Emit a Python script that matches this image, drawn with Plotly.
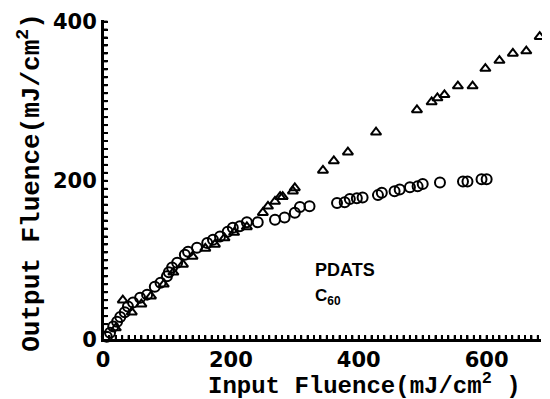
import plotly.graph_objects as go

# Triangles (upper series)
tri_x = [20, 31, 45, 60, 75, 95, 110, 125, 140, 160, 175, 190, 205, 225, 250, 258, 269, 281, 297,
         277, 300, 344, 361, 383, 427, 491, 514, 523, 534, 555, 578, 598, 620, 641, 662, 683]
tri_y = [15, 50, 35, 45, 55, 70, 85, 95, 105, 115, 120, 128, 135, 142, 160, 168, 174, 180, 187,
         180, 191, 213, 225, 236, 261, 289, 299, 304, 308, 319, 319, 341, 351, 360, 363, 381]

# Circles (lower series)
cir_x = [6, 11, 16, 22, 27, 34, 39, 47, 58, 69, 81, 90, 100, 103, 108, 116, 128, 133, 147, 163,
         172, 183, 195, 203, 214, 225, 242, 269, 284, 300, 308, 323, 366, 378, 386, 397, 406, 430,
         436, 456, 464, 480, 492, 500, 527, 563, 570, 592, 600]
cir_y = [4, 9, 17, 23, 29, 35, 42, 47, 53, 57, 67, 72, 80, 85, 91, 97, 107, 111, 116, 122,
         126, 130, 136, 141, 143, 148, 148, 151, 154, 160, 167, 168, 172, 173, 177, 178, 179, 182,
         185, 187, 189, 192, 193, 196, 198, 199, 199, 202, 202]

x_labels = [0, 200, 400, 600]
y_labels = [0, 200, 400]
x_title = "<b>Input Fluence(mJ/cm<sup>2</sup> )</b>"
y_title = "<b>Output Fluence(mJ/cm<sup>2</sup>)</b>"

X_RANGE = [0, 685]
Y_RANGE = [0, 402]

# small tick every 10 units, labelled only at the label values
x_tickvals = list(range(0, 681, 10))
x_ticktext = ["<b>%d</b>" % v if v in x_labels else "" for v in x_tickvals]
y_tickvals = list(range(0, 401, 10))
y_ticktext = ["<b>%d</b>" % v if v in y_labels else "" for v in y_tickvals]

# axis frame and tick marks, derived from the axis ranges and tick values
frame_x = [X_RANGE[0], X_RANGE[0], X_RANGE[1], None]
frame_y = [Y_RANGE[1], Y_RANGE[0], Y_RANGE[0], None]
for v in x_tickvals:
    frame_x += [v, v, None]
    frame_y += [Y_RANGE[0], Y_RANGE[0] + 6, None]
for v in y_tickvals:
    frame_x += [X_RANGE[0], X_RANGE[0] + 7, None]
    frame_y += [v, v, None]

fig = go.Figure()
fig.add_trace(go.Scatter(x=frame_x, y=frame_y, mode="lines", hoverinfo="skip", cliponaxis=False,
                         line=dict(color="black", width=2), showlegend=False))
fig.add_trace(go.Scatter(x=cir_x, y=cir_y, mode="markers", name="C60", cliponaxis=False,
                         marker=dict(symbol="circle-open", size=10, color="black",
                                     line=dict(width=2, color="black"))))
fig.add_trace(go.Scatter(x=tri_x, y=tri_y, mode="markers", name="PDATS", cliponaxis=False,
                         marker=dict(symbol="triangle-up-open", size=9, color="black",
                                     line=dict(width=2, color="black"))))

tickfont = dict(family="DejaVu Sans", size=21, color="black")

# The page body has an 8px default margin: the figure is sized to fill the rest.
fig.update_layout(
    width=542, height=391,
    margin=dict(l=95, r=9, t=12, b=59),
    paper_bgcolor="white", plot_bgcolor="white",
    showlegend=False,
    xaxis=dict(range=X_RANGE, tickmode="array", tickvals=x_tickvals, ticktext=x_ticktext,
               ticks="inside", ticklen=5, tickwidth=1.5, tickcolor="black", automargin=False,
               showline=True, linewidth=2, linecolor="black", showgrid=False, zeroline=False,
               tickfont=tickfont),
    yaxis=dict(range=Y_RANGE, tickmode="array", tickvals=y_tickvals, ticktext=y_ticktext,
               ticks="inside", ticklen=5, tickwidth=1.5, tickcolor="black", automargin=False,
               showline=True, linewidth=2, linecolor="black", showgrid=False, zeroline=False,
               tickfont=tickfont),
)

fig.add_annotation(x=0.598, y=-0.14, xref="paper", yref="paper", text=x_title, showarrow=False,
                   xanchor="center", yanchor="middle",
                   font=dict(family="Liberation Mono", size=24, color="black"))
fig.add_annotation(x=-0.167, y=0.494, xref="paper", yref="paper", text=y_title, showarrow=False,
                   textangle=-90, xanchor="center", yanchor="middle",
                   font=dict(family="Liberation Mono", size=26, color="black"))

fig.add_annotation(x=328, y=88, xref="x", yref="y", text="<b>PDATS</b>", showarrow=False, xanchor="left",
                   font=dict(family="Liberation Sans", size=18, color="black"))
fig.add_annotation(x=328, y=54, xref="x", yref="y", text="<b>C<sub>60</sub></b>", showarrow=False, xanchor="left",
                   font=dict(family="Liberation Sans", size=17, color="black"))

fig.write_html("out.html")
